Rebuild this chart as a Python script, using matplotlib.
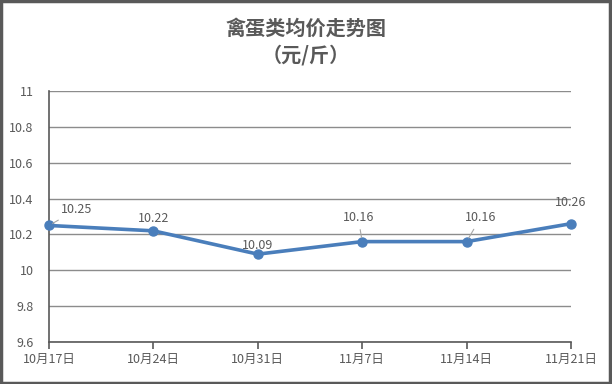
import matplotlib
matplotlib.use("Agg")
import matplotlib.pyplot as plt
from matplotlib.patches import Rectangle

plt.rcParams['font.family'] = ['Noto Sans CJK SC', 'DejaVu Sans']

dates = ['10月17日', '10月24日', '10月31日', '11月7日', '11月14日', '11月21日']
prices = [10.25, 10.22, 10.09, 10.16, 10.16, 10.26]
yticks = [9.6, 9.8, 10, 10.2, 10.4, 10.6, 10.8, 11]
ytick_labels = ['9.6', '9.8', '10', '10.2', '10.4', '10.6', '10.8', '11']

# label offsets in pixels, and whether a leader line is drawn
offsets = [(28, 16), (0, 12), (0, 9), (-4, 24), (14, 24), (0, 21)]
leaders = [True, False, False, True, True, False]

txt = '#595959'
blue = '#4a7ebb'

fig = plt.figure(figsize=(6.12, 3.84), dpi=100)
ax = fig.add_axes([49 / 612, 1 - 342 / 384, 522 / 612, 251 / 384])

x = list(range(len(dates)))
ax.plot(x, prices, color=blue, lw=2.6, marker='o', ms=6.5, zorder=3, clip_on=False)

for xi, p, off, lead in zip(x, prices, offsets, leaders):
    props = dict(arrowstyle='-', color='#a6a6a6', lw=0.8, shrinkA=2, shrinkB=3) if lead else None
    ax.annotate(f'{p:.2f}', (xi, p), xytext=off, textcoords='offset pixels',
                ha='center', va='center', fontsize=9, color=txt,
                arrowprops=props, zorder=4)

ax.set_xlim(0, len(dates) - 1)
ax.set_ylim(9.6, 11)
ax.set_yticks(yticks)
ax.set_yticklabels(ytick_labels)
ax.set_xticks(x)
ax.set_xticklabels(dates)
ax.grid(axis='y', color='#8c8c8c', lw=1)
ax.set_axisbelow(True)

for s in ['top', 'right']:
    ax.spines[s].set_visible(False)
ax.spines['left'].set_color('#595959')
ax.spines['bottom'].set_color('#595959')
ax.spines['left'].set_linewidth(1.2)
ax.spines['bottom'].set_linewidth(1.2)
ax.tick_params(axis='y', length=0, labelsize=9, labelcolor=txt, pad=11)
ax.tick_params(axis='x', length=5, width=1.2, color='#595959', labelsize=9,
               labelcolor=txt, pad=3)

fig.text(0.5, 1 - 28 / 384, '禽蛋类均价走势图', ha='center', va='center',
         fontsize=14.5, color=txt, fontweight='bold')
fig.text(0.5, 1 - 55 / 384, '（元/斤）', ha='center', va='center',
         fontsize=14.5, color=txt, fontweight='bold')

fig.patches.append(Rectangle((0.002, 0.003), 0.995, 0.994, transform=fig.transFigure,
                             fill=False, edgecolor='#595959', lw=2.5))

fig.savefig('out.png', dpi=100)
